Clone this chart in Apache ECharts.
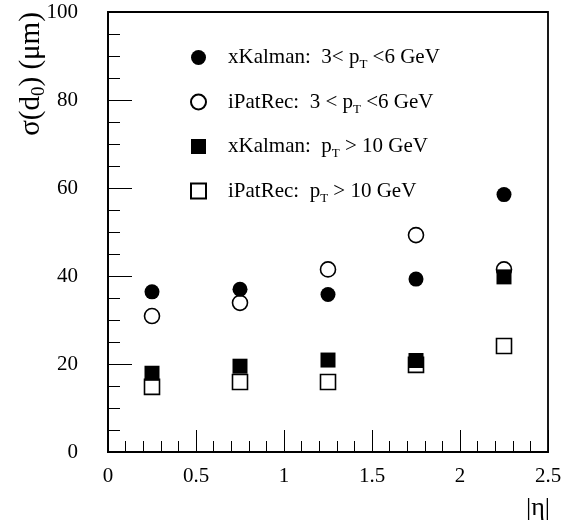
<!DOCTYPE html>
<html>
<head>
<meta charset="utf-8">
<script src="https://cdn.jsdelivr.net/npm/echarts@6/dist/echarts.min.js"></script>
<style>
html,body{margin:0;padding:0;background:#fff;}
#c{width:567px;height:524px;}
</style>
</head>
<body>
<div id="c"></div>
<script>
var etaBins = [0.25, 0.75, 1.25, 1.75, 2.25];
var xKalmanLow = [36.4, 37.0, 35.8, 39.3, 58.5];
var iPatRecLow = [30.9, 33.9, 41.5, 49.3, 41.5];
var xKalmanHigh = [17.9, 19.5, 20.9, 20.8, 39.8];
var iPatRecHigh = [14.8, 15.9, 15.9, 19.8, 24.1];
var seriesNames = [
  'xKalman: 3< pT <6 GeV',
  'iPatRec: 3 < pT <6 GeV',
  'xKalman: pT > 10 GeV',
  'iPatRec: pT > 10 GeV'
];
var legendRich = {};
legendRich[seriesNames[0]] = '{g|}{t|xKalman:  3< p}{s|T}{t| <6 GeV}';
legendRich[seriesNames[1]] = '{g|}{t|iPatRec:  3 < p}{s|T}{t| <6 GeV}';
legendRich[seriesNames[2]] = '{g|}{t|xKalman:  p}{s|T}{t| > 10 GeV}';
legendRich[seriesNames[3]] = '{g|}{t|iPatRec:  p}{s|T}{t| > 10 GeV}';

function pairs(vals){ return etaBins.map(function(x,i){ return [x, vals[i]]; }); }

var FONT = 'Liberation Serif';
var chart = echarts.init(document.getElementById('c'), null, {renderer:'canvas'});
var openStyle = {color:'#fff', borderColor:'#000', borderWidth:1.6, opacity:1};
var fillStyle = {color:'#000', borderColor:'#000', borderWidth:0, opacity:1};
chart.setOption({
  animation:false,
  backgroundColor:'#fff',
  grid:{left:108, right:19, top:12, bottom:72, show:true, borderColor:'#000', borderWidth:1.8, backgroundColor:'transparent'},
  xAxis:{
    type:'value', min:0, max:2.5, interval:0.5,
    axisLine:{show:true, onZero:false, lineStyle:{color:'#000', width:1.8}},
    axisTick:{show:true, inside:true, length:22, lineStyle:{color:'#000', width:1}},
    minorTick:{show:true, splitNumber:5, length:11, lineStyle:{color:'#000', width:1}},
    splitLine:{show:false},
    axisLabel:{color:'#000', fontFamily:FONT, fontSize:21, margin:14, showMaxLabel:true, showMinLabel:true}
  },
  yAxis:{
    type:'value', min:0, max:100, interval:20,
    axisLine:{show:true, lineStyle:{color:'#000', width:1.8}},
    axisTick:{show:true, inside:true, length:24, lineStyle:{color:'#000', width:1}},
    minorTick:{show:true, splitNumber:4, length:12, lineStyle:{color:'#000', width:1}},
    splitLine:{show:false},
    axisLabel:{color:'#000', fontFamily:FONT, fontSize:21, margin:30}
  },
  legend:{
    orient:'vertical', left:190, top:47, padding:0, itemWidth:15, itemHeight:15, itemGap:20,
    data:seriesNames, selectedMode:false,
    formatter:function(n){ return legendRich[n]; },
    textStyle:{
      color:'#000', fontFamily:FONT, fontSize:21,
      rich:{
        g:{width:17},
        t:{fontFamily:FONT, fontSize:21, lineHeight:28, color:'#000'},
        s:{fontFamily:FONT, fontSize:13, lineHeight:14, verticalAlign:'bottom', color:'#000'}
      }
    }
  },
  graphic:[
    {type:'text', x:31, y:74, rotation:Math.PI/2, style:{
      text:'{a|σ(d}{b|0}{a|) (μm)}', align:'center', verticalAlign:'middle',
      rich:{
        a:{fontFamily:FONT, fontSize:29, lineHeight:36, fill:'#000'},
        b:{fontFamily:FONT, fontSize:19, lineHeight:18, verticalAlign:'bottom', fill:'#000'}
      }
    }},
    {type:'text', x:538, y:508, style:{text:'|η|', fontFamily:FONT, fontSize:26, fill:'#000', align:'center', verticalAlign:'middle'}}
  ],
  series:[
    {name:seriesNames[1], type:'scatter', symbol:'circle', symbolSize:15, data:pairs(iPatRecLow), itemStyle:openStyle, z:2},
    {name:seriesNames[0], type:'scatter', symbol:'circle', symbolSize:15, data:pairs(xKalmanLow), itemStyle:fillStyle, z:3},
    {name:seriesNames[3], type:'scatter', symbol:'rect', symbolSize:15, data:pairs(iPatRecHigh), itemStyle:openStyle, z:4},
    {name:seriesNames[2], type:'scatter', symbol:'rect', symbolSize:15, data:pairs(xKalmanHigh), itemStyle:fillStyle, z:5}
  ]
});
</script>
</body>
</html>
